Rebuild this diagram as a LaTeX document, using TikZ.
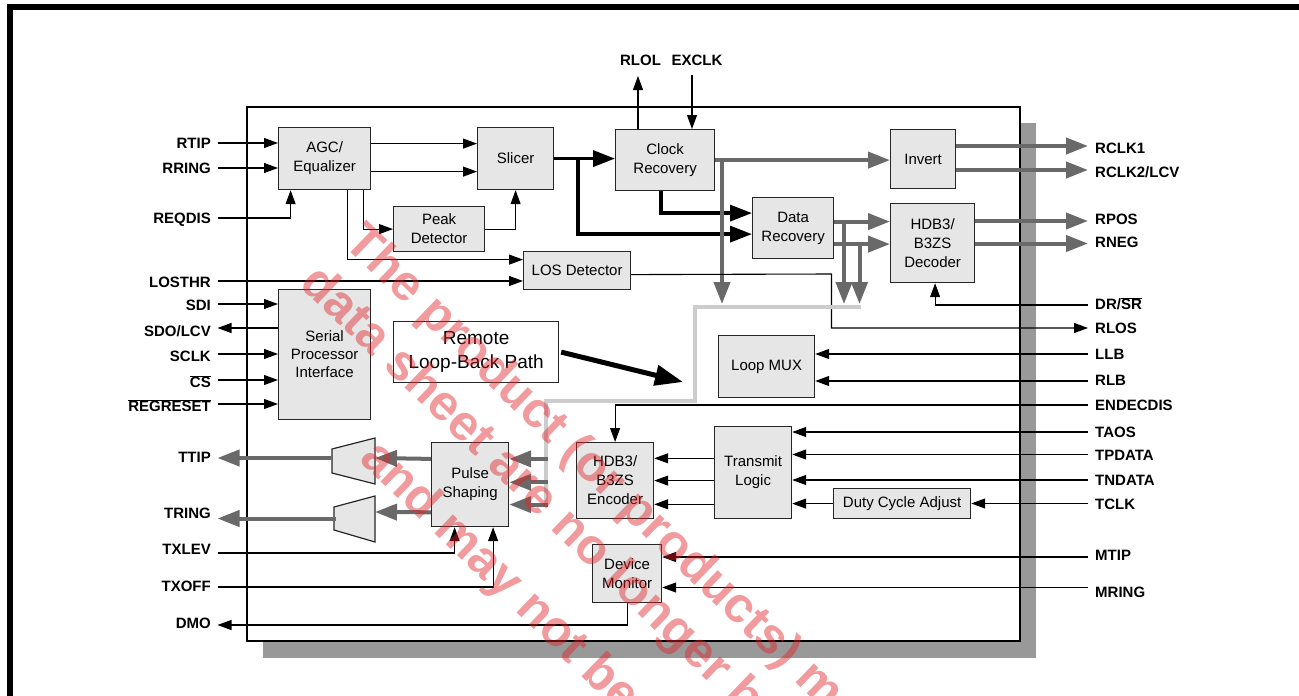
\documentclass[tikz,border=0pt]{standalone}
\usepackage{fontspec}
\setmainfont{Liberation Sans}
\usetikzlibrary{arrows.meta,calc}
\definecolor{boxfill}{RGB}{230,230,230}
\definecolor{gline}{RGB}{105,105,105}
\definecolor{lpathc}{RGB}{204,204,204}
\definecolor{shadowc}{RGB}{153,153,153}
\definecolor{wmred}{RGB}{225,35,40}
\newcommand\bx[7][]{\node[box,minimum width={#5pt-#3pt},minimum height={#6pt-#4pt},#1] (#2) at (#3,#4) {#7};}
\newcommand\lp[4]{\coordinate (c#1) at (217.5,#2); \node[lbl,anchor=base east] (l#1) at (211,#3+5.4) {#4};}
\newcommand\rp[4]{\coordinate (c#1) at (1088,#2); \node[lbl,anchor=base west] (l#1) at (1095,#3+5.4) {#4};}
\begin{document}
\begin{tikzpicture}[x=1pt,y={(0,-1pt)},
  box/.style={draw=black!85,line width=1.2pt,fill=boxfill,align=center,inner sep=0pt,
              font=\fontsize{15}{19}\selectfont,anchor=north west},
  lbl/.style={font=\bfseries\fontsize{15}{18}\selectfont,inner sep=0pt},
  sig/.style={draw,line width=1.1pt,-{Triangle[length=14pt,width=10pt]}},
  thk/.style={draw,line width=3.5pt,-{Triangle[length=22pt,width=16pt]}},
  gry/.style={draw=gline,line width=4pt,-{Triangle[length=22pt,width=16pt]}},
  bigarr/.style={draw,line width=5pt,-{Triangle[length=28pt,width=20pt]}},
  lpath/.style={draw=lpathc,line width=4pt},
  wm/.style={font=\bfseries\fontsize{50}{54}\selectfont,text=wmred,text opacity=0.45,inner sep=0pt}]
\useasboundingbox (0,0) rectangle (1299,696);
\fill[white] (0,0) rectangle (1299,696);
% frame
\fill[black] (7,4) rectangle (1299,10);
\fill[black] (7,4) rectangle (13,696);
% chip with shadow
\fill[shadowc] (263,123) rectangle (1036,658);
\draw[line width=1.2pt,fill=white] (247,107) rectangle (1020,641);

% blocks
\bx{agc}{278}{127}{370}{189}{AGC/\\Equalizer}
\bx{slicer}{477}{127}{553}{189}{Slicer}
\bx{peak}{393}{206}{484}{251}{Peak\\Detector}
\bx{los}{523}{251}{630}{289}{LOS Detector}
\bx{clk}{615}{129}{714}{190}{Clock\\Recovery}
\bx{data}{752}{197}{833}{258}{Data\\Recovery}
\bx{inv}{890}{129}{955}{188}{Invert}
\bx{dec}{890}{203}{974}{282}{HDB3/\\B3ZS\\Decoder}
\bx[font=\fontsize{15}{18}\selectfont]{spi}{278}{289}{370}{419}{Serial\\Processor\\Interface}
\bx[fill=white,font=\fontsize{19}{24}\selectfont]{remote}{393}{321}{558}{382}{Remote\\Loop-Back Path}
\bx{mux}{718}{335}{814}{397}{Loop MUX}
\bx{pulse}{431}{442}{508}{526}{Pulse\\Shaping}
\bx{enc}{576}{442}{653}{518}{HDB3/\\B3ZS\\Encoder}
\bx{txl}{714}{426}{791}{518}{Transmit\\Logic}
\bx{duty}{833}{488}{970}{518}{Duty Cycle Adjust}
\bx{dev}{592}{544}{661}{602}{Device\\Monitor}

% line drivers
\draw[line width=1.2pt,draw=black!85,fill=boxfill] (332,449) -- (375,438) -- (375,484) -- (332,473) -- cycle;
\draw[line width=1.2pt,draw=black!85,fill=boxfill] (334,507) -- (375,496) -- (375,542) -- (334,530) -- cycle;
\coordinate (t1w) at (332,458);
\coordinate (t1e) at (375,458);
\coordinate (t2w) at (336,518.5);
\coordinate (t2e) at (375,512);

% pins left
\lp{RTIP}{143}{143}{RTIP}
\lp{RRING}{168}{168}{RRING}
\lp{REQDIS}{218}{218}{REQDIS}
\lp{LOSTHR}{281}{282}{LOSTHR}
\lp{SDI}{304}{305.5}{SDI}
\lp{SDO}{328}{331}{SDO/LCV}
\lp{SCLK}{354}{356.5}{SCLK}
\lp{CS}{380}{382.5}{$\overline{\mbox{CS}}$}
\lp{REG}{404}{406.5}{$\overline{\mbox{REGRESET}}$}
\lp{TTIP}{458}{457.5}{TTIP}
\lp{TRING}{518.5}{513}{TRING}
\lp{TXLEV}{553}{549.5}{TXLEV}
\lp{TXOFF}{587}{586}{TXOFF}
\lp{DMO}{625}{623}{DMO}
% pins right
\rp{RCLK1}{146}{148}{RCLK1}
\rp{RCLK2}{170}{172}{RCLK2/LCV}
\rp{RPOS}{221}{218.7}{RPOS}
\rp{RNEG}{243.5}{242.5}{RNEG}
\rp{DRSR}{305}{304.5}{DR/$\overline{\mbox{SR}}$}
\rp{RLOS}{328}{328}{RLOS}
\rp{LLB}{354}{354.5}{LLB}
\rp{RLB}{381}{380}{RLB}
\rp{END}{405}{405}{ENDECDIS}
\rp{TAOS}{432}{432.5}{TAOS}
\rp{TPD}{454.5}{455}{TPDATA}
\rp{TND}{480}{480.5}{TNDATA}
\rp{TCLK}{503.5}{504}{TCLK}
\rp{MTIP}{557}{555.5}{MTIP}
\rp{MRING}{587.5}{592.5}{MRING}
% top pins
\coordinate (cRLOL) at (638,76);
\coordinate (cEXCLK) at (692,75);
\node[lbl,anchor=base] (lRLOL) at (640.5,65.4) {RLOL};
\node[lbl,anchor=base] (lEXCLK) at (697,65.4) {EXCLK};

% receive side
\draw[sig] (cRTIP) -- (cRTIP -| agc.west);
\draw[sig] (cRRING) -- (cRRING -| agc.west);
\draw[sig] (cREQDIS) -| ($(agc.south)+(-34,0)$);
\draw[sig] ($(agc.east)+(0,-15)$) -- ($(slicer.west)+(0,-15)$);
\draw[sig] ($(agc.east)+(0,13)$) -- ($(slicer.west)+(0,13)$);
\draw[sig] ($(agc.south)+(38.7,0)$) |- (peak.west);
\draw[sig] (peak.east) -| (slicer.south);
\draw[sig] ($(agc.south)+(23.3,0)$) |- ($(los.west)+(0,-11)$);
\draw[sig] (cLOSTHR) -- (cLOSTHR -| los.west);
\draw[thk] (slicer.east) -- (slicer.east -| clk.west);
\draw[thk] ($(slicer.east)+(23.7,0)$) |- ($(data.west)+(0,6)$);
\draw[thk] ($(clk.south)+(-4,0)$) |- ($(data.west)+(0,-15)$);
\draw[sig] (cRLOL |- clk.north) -- (cRLOL);
\draw[sig] (cEXCLK) -- (cEXCLK |- clk.north);
\draw[gry] (clk.east) -- (clk.east -| inv.west);
\coordinate (gA) at (722,304);
\coordinate (gB) at (844,304);
\coordinate (gC) at (859.5,304);
\draw[gry] (gA |- clk.east) -- (gA);
\draw[gry] ($(data.east)+(0,-6.5)$) coordinate (d1) -- (d1 -| dec.west);
\draw[gry] ($(data.east)+(0,16)$) coordinate (d2) -- (d2 -| dec.west);
\draw[gry] (gB |- d1) -- (gB);
\draw[gry] (gC |- d2) -- (gC);
\draw[gry] (cRCLK1 -| inv.east) -- (cRCLK1);
\draw[gry] (cRCLK2 -| inv.east) -- (cRCLK2);
\draw[gry] (cRPOS -| dec.east) -- (cRPOS);
\draw[gry] (cRNEG -| dec.east) -- (cRNEG);
\draw[sig] (cDRSR) -| ($(dec.south)+(2.5,0)$);
\draw[sig] ($(los.east)+(0,4)$) -- (831.5,274) |- (cRLOS);

% serial interface
\draw[sig] (cSDI) -- (cSDI -| spi.west);
\draw[sig] (cSDO -| spi.west) -- (cSDO);
\draw[sig] (cSCLK) -- (cSCLK -| spi.west);
\draw[sig] (cCS) -- (cCS -| spi.west);
\draw[sig] (cREG) -- (cREG -| spi.west);

% loop back
\coordinate (lp1) at (861,306.7);
\coordinate (lp2) at (695,306.7);
\coordinate (lp3) at (695,400.7);
\coordinate (lp4) at (546,400.7);
\coordinate (lp5) at (546,506);
\draw[lpath] (lp1) -- (lp2) -- (lp3) -- (lp4) -- (lp5);
\foreach \dy in {-25.7,-2.3,20}{\draw[gry] ($(pulse.east)+(38.5,\dy)$) -- ($(pulse.east)+(0,\dy)$);}
\coordinate (cRL) at (683,382);
\draw[bigarr] ($(remote.east)+(2,0)$) -- (cRL);
\draw[sig] (cLLB) -- (cLLB -| mux.east);
\draw[sig] (cRLB) -- (cRLB -| mux.east);

% transmit side
\draw[sig] (cEND) -| (enc.north);
\draw[sig] (cTAOS) -- (cTAOS -| txl.east);
\draw[sig] (cTPD) -- (cTPD -| txl.east);
\draw[sig] (cTND) -- (cTND -| txl.east);
\draw[sig] (cTCLK) -- (cTCLK -| duty.east);
\draw[sig] (duty.west) -- (duty.west -| txl.east);
\foreach \dy in {-14.3,8,31.7}{\draw[sig] ($(txl.west)+(0,\dy)$) -- ($(enc.east)+(0,\dy-8)$);}
\draw[gry] ($(pulse.west)+(0,-25.7)$) -- (t1e);
\draw[gry] ($(pulse.west)+(0,27.7)$) -- (t2e);
\draw[gry] (t1w) -- (cTTIP);
\draw[gry] (t2w) -- (cTRING);
\draw[sig] (cTXLEV) -| ($(pulse.south)+(-15.5,0)$);
\draw[sig] (cTXOFF) -| ($(pulse.south)+(23,0)$);
\draw[sig] (cMTIP) -- (cMTIP -| dev.east);
\draw[sig] (cMRING) -- (cMRING -| dev.east);
\draw[sig] (dev.south) |- (cDMO);

% watermark
\begin{scope}
\clip (0,0) rectangle (1299,696);
\node[wm,anchor=base west,rotate=-44] (w1) at (342,244) {The product (or products) m};
\node[wm,anchor=base west,rotate=-44] (w2) at (298,285) {data sheet are no longer b};
\node[wm,anchor=base west,rotate=-44] (w3) at (358,460) {and may not be};
\end{scope}
\end{tikzpicture}
\end{document}
